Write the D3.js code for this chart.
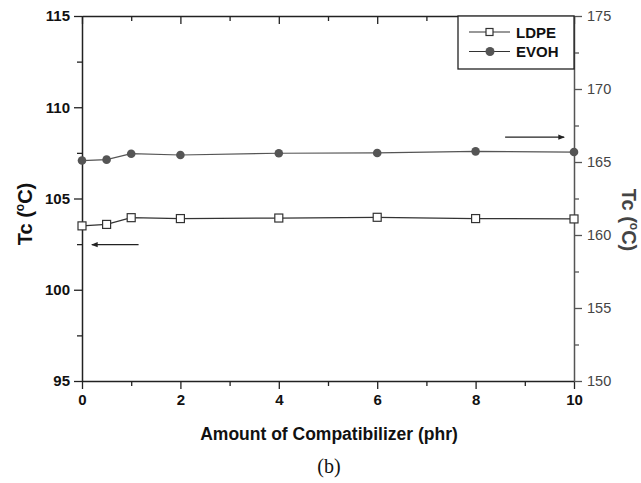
<!DOCTYPE html>
<html>
<head>
<meta charset="utf-8">
<title>Tc vs compatibilizer</title>
<script src="https://d3js.org/d3.v7.min.js"></script>
<style>
  body { margin: 0; background: #fff; }
  svg text { font-family: "Liberation Sans", Arial, sans-serif; }
</style>
</head>
<body>
<div id="vis"></div>
<script>
// values
let phr  = [0, 0.5, 1, 2, 4, 6, 8, 10];
let ldpe = [103.5, 103.58, 103.95, 103.9, 103.93, 103.97, 103.9, 103.88];  // left axis
let evoh = [165.1, 165.16, 165.57, 165.48, 165.6, 165.62, 165.73, 165.68]; // right axis
let xTicks = [0, 2, 4, 6, 8, 10];
let yLeftTicks = [95, 100, 105, 110, 115];
let yRightTicks = [150, 155, 160, 165, 170, 175];

let w = 641, h = 483;
let pLeft = 82, pRight = 574, pTop = 16, pBottom = 381;

let svg = d3.select("#vis").append("svg")
  .attr("width", w).attr("height", h);

let x = d3.scaleLinear().domain([0, 10]).range([pLeft, pRight]);
let yL = d3.scaleLinear().domain([95, 115]).range([pBottom, pTop]);
let yR = d3.scaleLinear().domain([150, 175]).range([pBottom, pTop]);

// minor ticks halfway between majors
let minorX = d3.range(1, 10, 2);
let minorL = [97.5, 102.5, 107.5, 112.5];
let minorR = [152.5, 157.5, 162.5, 167.5, 172.5];

function styleAxis(g, col) {
  g.select(".domain").attr("stroke", col).attr("stroke-width", 1.5);
  g.selectAll(".tick line").attr("stroke", col).attr("stroke-width", 1.3);
}
function minorStyle(col) {
  return g => { g.select(".domain").remove(); g.selectAll("line").attr("stroke", col).attr("stroke-width", 1.3); };
}

// bottom
let gx = svg.append("g").attr("transform", `translate(0,${pBottom})`)
  .call(d3.axisBottom(x).tickValues(xTicks).tickSize(8).tickPadding(5).tickSizeOuter(0));
styleAxis(gx, "#222");
gx.selectAll("text").attr("font-size", 15).attr("font-weight", "bold").attr("fill", "#111");
svg.append("g").attr("transform", `translate(0,${pBottom})`)
  .call(d3.axisBottom(x).tickValues(minorX).tickSize(5).tickFormat("").tickSizeOuter(0))
  .call(minorStyle("#222"));

// top (mirror, ticks inward)
let gt = svg.append("g").attr("transform", `translate(0,${pTop})`)
  .call(d3.axisBottom(x).tickValues(xTicks).tickSize(8).tickFormat("").tickSizeOuter(0));
styleAxis(gt, "#222");
svg.append("g").attr("transform", `translate(0,${pTop})`)
  .call(d3.axisBottom(x).tickValues(minorX).tickSize(5).tickFormat("").tickSizeOuter(0))
  .call(minorStyle("#222"));

// left
let gl = svg.append("g").attr("transform", `translate(${pLeft},0)`)
  .call(d3.axisLeft(yL).tickValues(yLeftTicks).tickSize(8).tickPadding(4).tickSizeOuter(0));
styleAxis(gl, "#222");
gl.selectAll("text").attr("font-size", 15).attr("font-weight", "bold").attr("fill", "#111");
svg.append("g").attr("transform", `translate(${pLeft},0)`)
  .call(d3.axisLeft(yL).tickValues(minorL).tickSize(5).tickFormat("").tickSizeOuter(0))
  .call(minorStyle("#222"));

// right
let gr = svg.append("g").attr("transform", `translate(${pRight},0)`)
  .call(d3.axisRight(yR).tickValues(yRightTicks).tickSize(8).tickPadding(5).tickSizeOuter(0));
styleAxis(gr, "#555");
gr.selectAll("text").attr("font-size", 14.5).attr("fill", "#444");
svg.append("g").attr("transform", `translate(${pRight},0)`)
  .call(d3.axisRight(yR).tickValues(minorR).tickSize(5).tickFormat("").tickSizeOuter(0))
  .call(minorStyle("#555"));

// series lines
let lineL = d3.line().x((d, i) => x(phr[i])).y(d => yL(d));
let lineR = d3.line().x((d, i) => x(phr[i])).y(d => yR(d));

svg.append("path").datum(evoh).attr("d", lineR)
  .attr("fill", "none").attr("stroke", "#555").attr("stroke-width", 1.2);
svg.append("path").datum(ldpe).attr("d", lineL)
  .attr("fill", "none").attr("stroke", "#333").attr("stroke-width", 1.2);

svg.selectAll("circle.evoh").data(evoh).enter().append("circle")
  .attr("class", "evoh")
  .attr("cx", (d, i) => x(phr[i])).attr("cy", d => yR(d))
  .attr("r", 4.3).attr("fill", "#555");

svg.selectAll("rect.ldpe").data(ldpe).enter().append("rect")
  .attr("class", "ldpe")
  .attr("x", (d, i) => x(phr[i]) - 4).attr("y", d => yL(d) - 4)
  .attr("width", 8).attr("height", 8)
  .attr("fill", "#fff").attr("stroke", "#333").attr("stroke-width", 1.2);

// arrows
svg.append("defs").append("marker")
  .attr("id", "ah").attr("viewBox", "0 0 10 10").attr("refX", 9).attr("refY", 5)
  .attr("markerWidth", 7).attr("markerHeight", 5).attr("orient", "auto")
  .append("path").attr("d", "M0,1 L10,5 L0,9 Z").attr("fill", "#222");

svg.append("line").attr("x1", x(1.15)).attr("x2", x(0.2))
  .attr("y1", yL(102.47)).attr("y2", yL(102.47))
  .attr("stroke", "#222").attr("stroke-width", 1.3).attr("marker-end", "url(#ah)");
svg.append("line").attr("x1", x(8.6)).attr("x2", x(9.8))
  .attr("y1", yR(166.7)).attr("y2", yR(166.7))
  .attr("stroke", "#222").attr("stroke-width", 1.3).attr("marker-end", "url(#ah)");

// legend
let lg = svg.append("g");
lg.append("rect").attr("x", 458).attr("y", pTop).attr("width", pRight - 458).attr("height", 53)
  .attr("fill", "#fff").attr("stroke", "#222").attr("stroke-width", 1.3);
let legendItems = [["LDPE", 32], ["EVOH", 51.5]];
legendItems.forEach(([name, ly]) => {
  lg.append("line").attr("x1", 469).attr("x2", 510).attr("y1", ly).attr("y2", ly)
    .attr("stroke", "#333").attr("stroke-width", 1.2);
  if (name == "LDPE") {
    lg.append("rect").attr("x", 486).attr("y", ly - 3.5).attr("width", 7).attr("height", 7)
      .attr("fill", "#fff").attr("stroke", "#333").attr("stroke-width", 1.2);
  } else {
    lg.append("circle").attr("cx", 490).attr("cy", ly).attr("r", 4.5).attr("fill", "#555");
  }
  lg.append("text").attr("x", 516).attr("y", ly + 5.5).attr("font-size", 15)
    .attr("font-weight", "bold").attr("fill", "#111").text(name);
});

// axis titles
svg.append("text").attr("transform", "translate(32,214) rotate(-90)")
  .attr("text-anchor", "middle").attr("font-size", 20).attr("font-weight", "bold").attr("fill", "#111")
  .html('Tc (<tspan font-size="12" dy="-8">o</tspan><tspan dy="8">C)</tspan>');
svg.append("text").attr("transform", "translate(622,220) rotate(90)")
  .attr("text-anchor", "middle").attr("font-size", 20).attr("font-weight", "bold").attr("fill", "#444")
  .html('Tc (<tspan font-size="12" dy="-8">o</tspan><tspan dy="8">C)</tspan>');

svg.append("text").attr("x", 329).attr("y", 440).attr("text-anchor", "middle")
  .attr("font-size", 17.5).attr("font-weight", "bold").attr("fill", "#111")
  .text("Amount of Compatibilizer (phr)");

svg.append("text").attr("x", 329).attr("y", 473).attr("text-anchor", "middle")
  .attr("font-size", 20).attr("fill", "#111")
  .style("font-family", "'Liberation Serif', 'Times New Roman', serif")
  .text("(b)");
</script>
</body>
</html>
